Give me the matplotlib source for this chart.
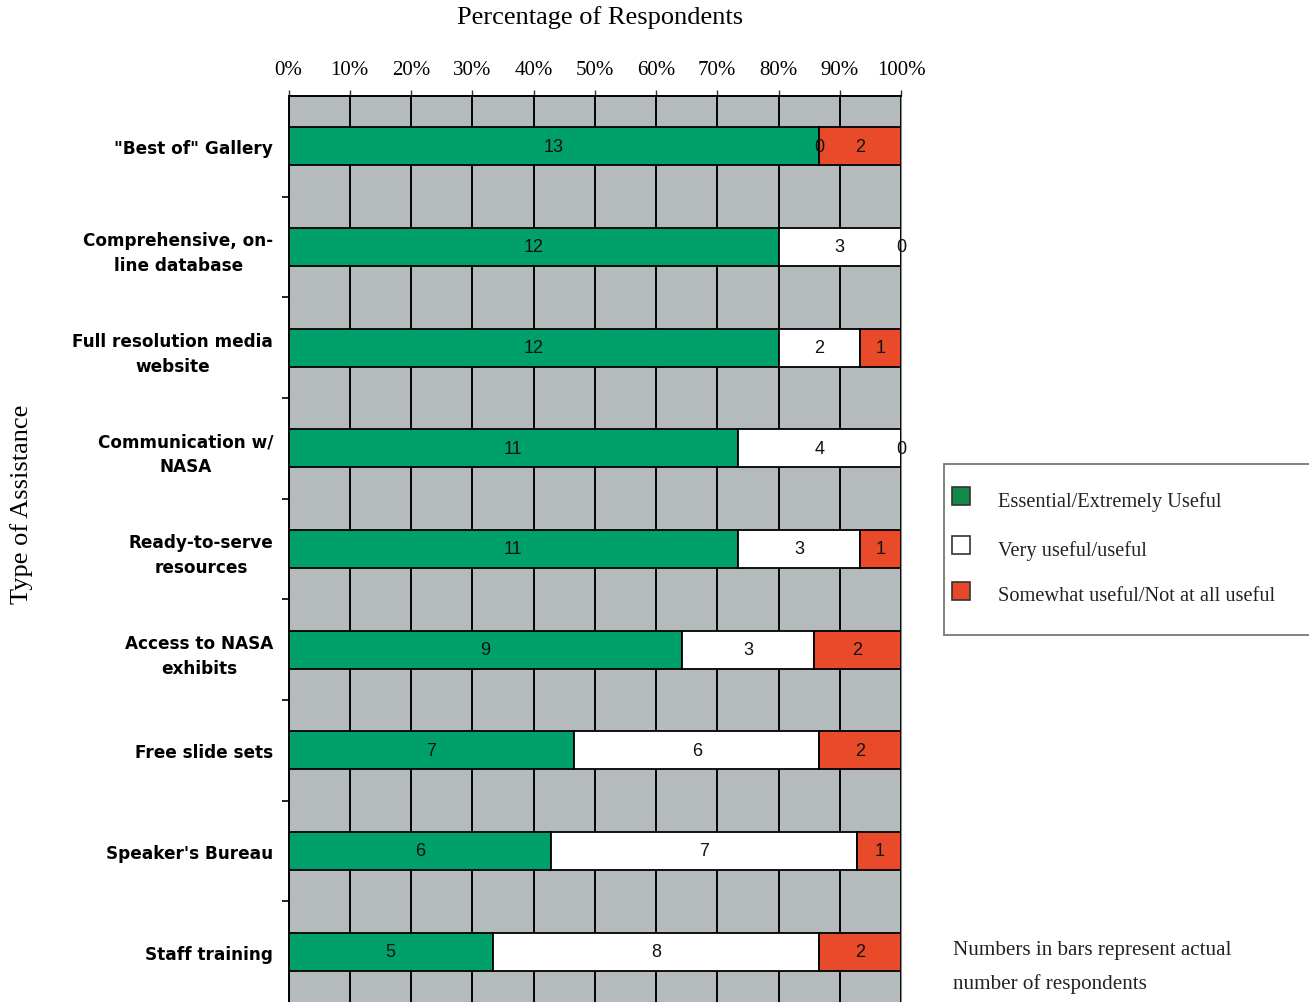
import matplotlib
matplotlib.use("Agg")
import matplotlib.pyplot as plt
import numpy as np
from matplotlib.patches import Rectangle

categories = ['"Best of" Gallery', "Comprehensive, on-\nline database",
              "Full resolution media\nwebsite", "Communication w/\nNASA",
              "Ready-to-serve\nresources", "Access to NASA\nexhibits",
              "Free slide sets", "Speaker's Bureau", "Staff training"]
essential = [13, 12, 12, 11, 11, 9, 7, 6, 5]
very_useful = [0, 3, 2, 4, 3, 3, 6, 7, 8]
somewhat = [2, 0, 1, 0, 1, 2, 2, 1, 2]
series_names = ["Essential/Extremely Useful", "Very useful/useful",
                "Somewhat useful/Not at all useful"]
xtick_vals = [0, 10, 20, 30, 40, 50, 60, 70, 80, 90, 100]
xtick_labels = [f"{v}%" for v in xtick_vals]

bar_colors = ["#00a06b", "#ffffff", "#e84a2a"]
legend_colors = ["#138a48", "#ffffff", "#e8472a"]

W, H = 1309, 1003
fig = plt.figure(figsize=(W / 100, H / 100), dpi=100)
ax = fig.add_axes([288.5 / W, 0, 612.5 / W, 1 - 97 / H])
ax.set_facecolor("#b5babd")

counts = np.array([essential, very_useful, somewhat], dtype=float)
totals = counts.sum(axis=0)
pct = counts / totals * 100
y = np.arange(len(categories))
left = np.zeros(len(categories))
for i in range(3):
    bars = ax.barh(y, pct[i], left=left, height=0.38, color=bar_colors[i],
                   edgecolor="black", linewidth=1.3, zorder=3)
    ax.bar_label(bars, labels=[str(int(c)) for c in counts[i]],
                 label_type="center", fontsize=13, family="Liberation Sans",
                 color="#111111", zorder=4)
    left += pct[i]

ax.set_xlim(0, 100)
ax.set_ylim(len(categories) - 0.5, -0.5)
ax.set_xticks(xtick_vals)
ax.set_xticklabels(xtick_labels, family="Liberation Serif", fontsize=15)
ax.xaxis.tick_top()
ax.tick_params(axis="x", which="major", length=4, width=1, pad=8.5, color="#333333")
ax.grid(axis="x", color="black", linewidth=1.4, zorder=1)
ax.set_axisbelow(True)

ax.set_yticks(y)
ax.set_yticklabels(categories, family="DejaVu Sans", fontweight="bold",
                   fontsize=12.2, multialignment="center", linespacing=1.5)
ax.tick_params(axis="y", which="major", length=0, pad=11)
ax.set_yticks(np.arange(0.5, len(categories) - 0.5, 1), minor=True)
ax.tick_params(axis="y", which="minor", length=5, width=1.2)

for s in ["left", "top"]:
    ax.spines[s].set_color("black")
    ax.spines[s].set_linewidth(1.4)
ax.spines["right"].set_color("#8c9093")
ax.spines["bottom"].set_visible(False)

fig.text(600 / W, 1 - 18 / H, "Percentage of Respondents",
         family="Liberation Serif", fontsize=19, ha="center", va="center")
fig.text(22 / W, 1 - 504 / H, "Type of Assistance", family="Liberation Serif",
         fontsize=19, rotation=90, ha="center", va="center")

# legend box
fig.patches.append(Rectangle((944 / W, 1 - 636 / H), 400 / W, 171 / H,
                             transform=fig.transFigure, facecolor="white",
                             edgecolor="#777777", linewidth=1.3))
leg_y = [497, 546, 592]
for name, col, yy in zip(series_names, legend_colors, leg_y):
    fig.patches.append(Rectangle((952 / W, 1 - (yy + 9) / H), 18 / W, 18 / H,
                                 transform=fig.transFigure, facecolor=col,
                                 edgecolor="#333333", linewidth=1.2))
    fig.text(998 / W, 1 - (yy + 5) / H, name, family="Liberation Serif",
             fontsize=14.7, ha="left", va="center", color="#222222")

fig.text(953 / W, 1 - 951 / H, "Numbers in bars represent actual",
         family="Liberation Serif", fontsize=15.2, ha="left", va="center", color="#222222")
fig.text(953 / W, 1 - 984 / H, "number of respondents",
         family="Liberation Serif", fontsize=15.2, ha="left", va="center", color="#222222")

fig.savefig("out.png", dpi=100)
